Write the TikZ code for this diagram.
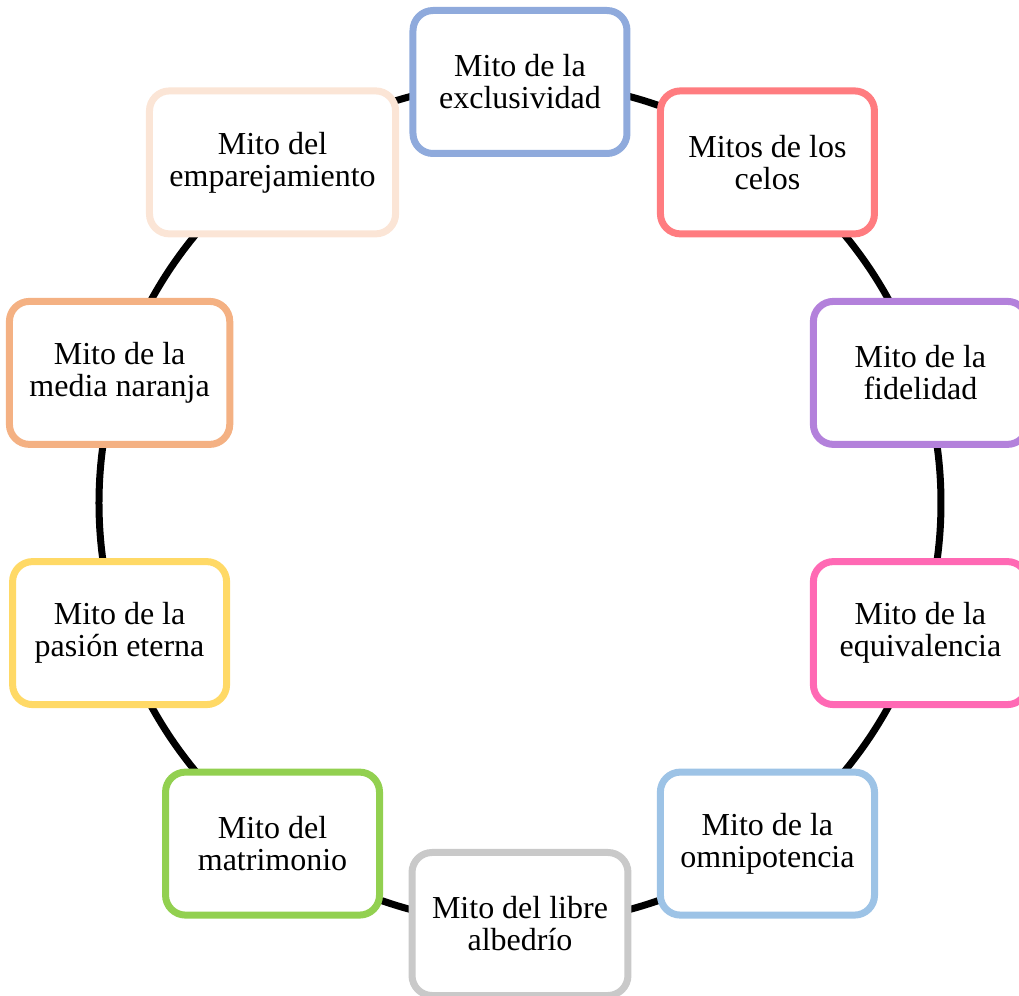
\documentclass[tikz,border=0pt]{standalone}
\usepackage{fontspec}
\setmainfont{Liberation Serif}
\usetikzlibrary{backgrounds}

\begin{document}
\begin{tikzpicture}[x=0.5pt,y=0.5pt]
\definecolor{mitoExclusividad}{HTML}{8FAADC}
\definecolor{mitoCelos}{HTML}{FF7C80}
\definecolor{mitoFidelidad}{HTML}{B381DB}
\definecolor{mitoEquivalencia}{HTML}{FF69B4}
\definecolor{mitoOmnipotencia}{HTML}{9DC3E6}
\definecolor{mitoAlbedrio}{HTML}{C9C9C9}
\definecolor{mitoMatrimonio}{HTML}{92D050}
\definecolor{mitoPasion}{HTML}{FFD966}
\definecolor{mitoNaranja}{HTML}{F4B183}
\definecolor{mitoEmparejamiento}{HTML}{FBE5D6}
\tikzset{mito/.style={draw,line width=3.5pt,rounded corners=10pt,fill=white,
  align=center,minimum width=107pt,minimum height=71.5pt,inner xsep=10pt,
  font=\fontsize{16}{16}\selectfont}}
\useasboundingbox (-520,-493) rectangle (499,503);
\foreach \i/\ang/\col/\txt in {
  1/90/mitoExclusividad/{Mito de la\\exclusividad},
  2/54/mitoCelos/{Mitos de los\\celos},
  3/18/mitoFidelidad/{Mito de la\\fidelidad},
  4/-18/mitoEquivalencia/{Mito de la\\equivalencia},
  5/-54/mitoOmnipotencia/{Mito de la\\omnipotencia},
  6/-90/mitoAlbedrio/{Mito del libre\\albedrío},
  7/-126/mitoMatrimonio/{Mito del\\matrimonio},
  8/-162/mitoPasion/{Mito de la\\pasión eterna},
  9/162/mitoNaranja/{Mito de la\\media naranja},
  10/126/mitoEmparejamiento/{Mito del\\emparejamiento}} {
  \node[mito,draw=\col] (m\i) at (\ang:421) {\txt};
}
% ring behind the boxes, one arc per pair
\begin{scope}[on background layer]
\foreach \a/\ang in {1/90,2/54,3/18,4/-18,5/-54,6/-90,7/-126,8/-162,9/162,10/126} {
  \draw[line width=3.5pt] (m\a.center) arc[start angle=\ang,delta angle=-36,radius=421];
}
\end{scope}
\end{tikzpicture}
\end{document}
